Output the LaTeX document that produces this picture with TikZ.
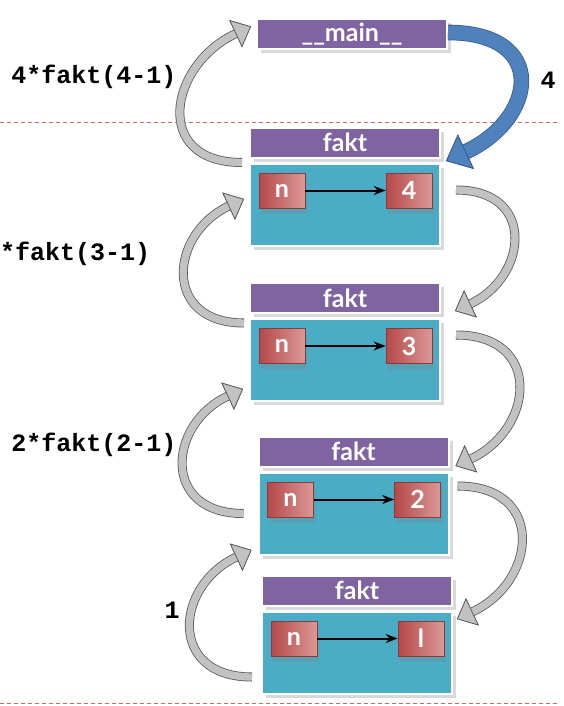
\documentclass[tikz,border=0pt]{standalone}
\usepackage{fontspec}
\setmonofont{Liberation Mono}
\newfontfamily\kopffont{Lato}
\usepackage{tikz}
\usetikzlibrary{arrows.meta,calc,positioning,shadows}
\usepackage{xcolor}
\definecolor{kopflila}{HTML}{8064A2}
\definecolor{rumpfblau}{HTML}{4BACC6}
\definecolor{wertrot}{HTML}{B5484A}
\definecolor{wertrosa}{HTML}{DC9896}
\definecolor{wertrand}{HTML}{8A3A38}
\definecolor{rueckblau}{HTML}{4F81BD}
\definecolor{rueckrand}{HTML}{385D8A}
\definecolor{strich}{HTML}{C0504D}

\begin{document}
\begin{tikzpicture}[x=1pt,y=1pt,>=Stealth,every node/.style={inner sep=0pt}]
  \tikzset{kopf/.style={fill=kopflila,draw=white,line width=2pt,minimum width=190pt,minimum height=30pt,
                        text=white,font=\kopffont\bfseries\fontsize{25}{28}\selectfont,
                        drop shadow={opacity=0.3,shadow xshift=4pt,shadow yshift=-4pt}},
           rumpf/.style={kopf,fill=rumpfblau,minimum height=82pt},
           wert/.style={draw=wertrand,line width=0.6pt,left color=wertrot,right color=wertrosa,
                        minimum width=46pt,minimum height=35pt,text=white,
                        font=\kopffont\bfseries\fontsize{25}{28}\selectfont,
                        drop shadow={opacity=0.25,shadow xshift=2pt,shadow yshift=-6pt}},
           spitze/.style={-{Triangle[length=17pt,width=30pt,line width=0.7pt,fill=black!24,color=black!65]}},
           fett/.style={line width=7.4pt,draw=black!24,looseness=1.7,
                        preaction={draw=black!65,line width=9pt,spitze},spitze},
           blauspitze/.style={-{Triangle[length=22pt,width=38pt,line width=0.8pt,fill=rueckblau,color=rueckrand]}},
           rueck/.style={line width=14pt,draw=rueckblau,
                         preaction={draw=rueckrand,line width=15.6pt,blauspitze},blauspitze},
           ruf/.style={font=\ttfamily\bfseries\fontsize{25}{28}\selectfont},
           trenn/.style={draw=strich!85,line width=0.7pt,dash pattern=on 4pt off 3pt},
           zeiger/.style={->,line width=2pt}}
  \useasboundingbox (0,0) rectangle (564,-706);
  % trennlinien
  \draw[trenn] (0,-122) -- (557,-122);
  \draw[trenn] (0,-703) -- (557,-703);
  % rahmen
  \node[kopf] (main) at (352,-34.5) {\_\_main\_\_};
  \node[kopf] (k1) at (345,-142.5) {fakt};
  \node[rumpf,below=4pt of k1] (r1) {};
  \node[kopf] (k2) at (345,-298) {fakt};
  \node[rumpf,below=4pt of k2] (r2) {};
  \node[kopf] (k3) at (353.5,-451.5) {fakt};
  \node[rumpf,below=4pt of k3] (r3) {};
  \node[kopf] (k4) at (357,-590.5) {fakt};
  \node[rumpf,below=4pt of k4] (r4) {};
  % variablen
  \node[wert] (n1) at ($(r1.west)+(33,14)$) {n};  \node[wert] (v1) at ($(r1.east)+(-32,14)$) {4};
  \node[wert] (n2) at ($(r2.west)+(33,14)$) {n};  \node[wert] (v2) at ($(r2.east)+(-32,14)$) {3};
  \node[wert] (n3) at ($(r3.west)+(33,14)$) {n};  \node[wert] (v3) at ($(r3.east)+(-32,14)$) {2};
  \node[wert] (n4) at ($(r4.west)+(33,14)$) {n};  \node[wert] (v4) at ($(r4.east)+(-32,14)$) {l};
  \draw[zeiger] (n1) -- (v1); \draw[zeiger] (n2) -- (v2);
  \draw[zeiger] (n3) -- (v3); \draw[zeiger] (n4) -- (v4);
  % aufrufe
  \node[ruf] (a1) at (94,-77) {4*fakt(4-1)};
  \node[ruf,anchor=west] (a2) at (0,-254) {*fakt(3-1)};
  \node[ruf] (a3) at (94,-445) {2*fakt(2-1)};
  \node[ruf] (a4) at (172,-610) {1};
  \node[ruf] (a5) at (548,-80) {4};
  % rueckgaben links
  \draw[fett] ([xshift=-7pt,yshift=-4pt]k1.south west) to[out=180,in=205] ([xshift=-5pt,yshift=8pt]main.west);
  \draw[fett] ([xshift=-5pt,yshift=-5pt]r2.north west) to[out=180,in=205] ([xshift=-5pt,yshift=5.5pt]r1.west);
  \draw[fett] ([xshift=-14pt]r3.west) to[out=180,in=205] ([xshift=-6pt,yshift=13pt]r2.south west);
  \draw[fett] ([xshift=-9pt,yshift=17.5pt]r4.south west) to[out=180,in=205] ([xshift=-6pt,yshift=5.5pt]r3.south west);
  % aufrufe rechts
  \draw[rueck] ([yshift=2pt]main.east) to[out=0,in=25,looseness=2] ([xshift=5pt,yshift=-2.5pt]k1.south east);
  \draw[fett] ([xshift=15pt,yshift=14.5pt]r1.east) to[out=0,in=25] ([xshift=14pt,yshift=3pt]k2.south east);
  \draw[fett] ([xshift=15pt,yshift=25pt]r2.east) to[out=0,in=25] ([xshift=6pt,yshift=1.5pt]k3.south east);
  \draw[fett] ([xshift=8pt,yshift=-14.5pt]r3.north east) to[out=0,in=25] ([xshift=4pt,yshift=-8.5pt]r4.north east);
\end{tikzpicture}
\end{document}
